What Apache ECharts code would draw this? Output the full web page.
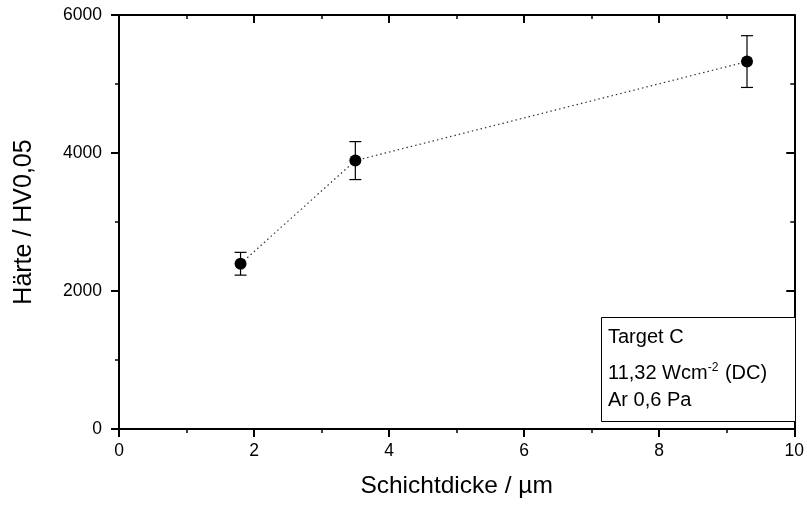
<!DOCTYPE html>
<html><head><meta charset="utf-8">
<script src="https://cdn.jsdelivr.net/npm/echarts@6/dist/echarts.min.js"></script>
<style>html,body{margin:0;padding:0;background:#fff}#c{width:807px;height:506px}</style>
</head><body><div id="c"></div>
<script>
const thickness = [1.8, 3.5, 9.3];
const hardness = [2395, 3890, 5325];
const hardnessErr = [165, 275, 375];
const xTicks = [0, 2, 4, 6, 8, 10];
const yTicks = [0, 2000, 4000, 6000];
const xTitle = 'Schichtdicke / µm';
const yTitle = 'Härte / HV0,05';
const noteLine1 = 'Target C';
const noteLine2 = ['11,32 Wcm', '-2', ' (DC)'];
const noteLine3 = 'Ar 0,6 Pa';

const font = 'Liberation Sans, Arial, sans-serif';
const chart = echarts.init(document.getElementById('c'), null, {renderer: 'canvas'});

const axisLine = {show: true, onZero: false, lineStyle: {color: '#000', width: 2}};
function xAx(pos, labels) {
  return {
    type: 'value', position: pos, min: xTicks[0], max: xTicks[xTicks.length - 1], interval: 2,
    axisLine, splitLine: {show: false},
    axisTick: {show: true, inside: pos === 'top', length: 8, lineStyle: {color: '#000', width: 2}},
    minorTick: {show: true, splitNumber: 2, length: 4, lineStyle: {color: '#000', width: 1.5}},
    axisLabel: {show: labels, color: '#000', fontSize: 17.5, fontFamily: font, margin: 13,
      formatter: v => String(v)},
    name: labels ? xTitle : '', nameLocation: 'middle', nameGap: 45,
    nameTextStyle: {color: '#000', fontSize: 24.5, fontFamily: font}
  };
}
function yAx(pos, labels) {
  return {
    type: 'value', position: pos, min: yTicks[0], max: yTicks[yTicks.length - 1], interval: 2000,
    axisLine, splitLine: {show: false},
    axisTick: {show: true, inside: pos === 'right', length: 8, lineStyle: {color: '#000', width: 2}},
    minorTick: {show: true, splitNumber: 2, length: 4, lineStyle: {color: '#000', width: 1.5}},
    axisLabel: {show: labels, color: '#000', fontSize: 17.5, fontFamily: font, margin: 17,
      formatter: v => String(v)},
    name: labels ? yTitle : '', nameLocation: 'middle', nameGap: 82,
    nameTextStyle: {color: '#000', fontSize: 25, fontFamily: font}
  };
}

const pts = thickness.map((x, i) => [x, hardness[i]]);
const errs = thickness.map((x, i) => [x, hardness[i] - hardnessErr[i], hardness[i] + hardnessErr[i]]);

chart.setOption({
  animation: false,
  grid: {left: 119, right: 11, top: 15, bottom: 77},
  xAxis: [xAx('bottom', true), xAx('top', false)],
  yAxis: [yAx('left', true), yAx('right', false)],
  series: [
    {
      type: 'line', data: pts, symbol: 'circle', symbolSize: 12,
      itemStyle: {color: '#000'},
      lineStyle: {color: '#333', width: 1.2, type: [1.5, 3]}, z: 3
    },
    {
      type: 'custom', data: errs, z: 2,
      renderItem: function (params, api) {
        const x = api.value(0);
        const lo = api.coord([x, api.value(1)]);
        const hi = api.coord([x, api.value(2)]);
        const w = 6;
        const st = {stroke: '#000', lineWidth: 1.2};
        return {type: 'group', children: [
          {type: 'line', shape: {x1: lo[0], y1: lo[1], x2: hi[0], y2: hi[1]}, style: st},
          {type: 'line', shape: {x1: lo[0] - w, y1: lo[1], x2: lo[0] + w, y2: lo[1]}, style: st},
          {type: 'line', shape: {x1: hi[0] - w, y1: hi[1], x2: hi[0] + w, y2: hi[1]}, style: st}
        ]};
      }
    }
  ],
  graphic: [
    {type: 'rect', left: 601, top: 317, shape: {width: 194, height: 104},
     style: {fill: '#fff', stroke: '#000', lineWidth: 1}, z: 10},
    {type: 'text', left: 608, top: 327, z: 11,
     style: {text: noteLine1, fontSize: 20, fontFamily: font, fill: '#000'}},
    {type: 'text', left: 608, top: 362, z: 11,
     style: {
       text: '{a|' + noteLine2[0] + '}{s|' + noteLine2[1] + '}{a|' + noteLine2[2] + '}',
       rich: {
         a: {fontSize: 20, fontFamily: font, fill: '#000', lineHeight: 22},
         s: {fontSize: 12, fontFamily: font, fill: '#000', lineHeight: 22, verticalAlign: 'top', padding: [0, 1, 12, 0]}
       }
     }},
    {type: 'text', left: 608, top: 390, z: 11,
     style: {text: noteLine3, fontSize: 20, fontFamily: font, fill: '#000'}}
  ]
});
</script></body></html>
